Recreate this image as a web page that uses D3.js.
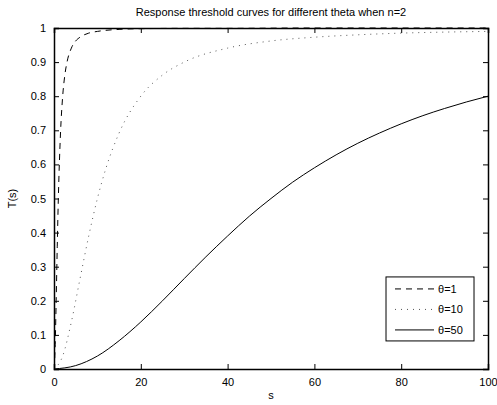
<!DOCTYPE html>
<html>
<head>
<meta charset="utf-8">
<script src="https://cdn.jsdelivr.net/npm/d3@7"></script>
<style>
body { margin: 0; background: #fff; }
text { font-family: "Liberation Sans", Arial, sans-serif; fill: #000; }
</style>
</head>
<body>
<div id="chart"></div>
<script>
// values
const s1 = [0, 0.25, 0.5, 0.75, 1, 1.5, 2, 2.5, 3, 4, 5, 6, 8, 10, 15, 20, 30, 40, 60, 80, 100]
const t1 = [0, 0.059, 0.2, 0.36, 0.5, 0.692, 0.8, 0.862, 0.9, 0.941, 0.962, 0.973, 0.985, 0.99, 0.996, 0.998, 0.999, 0.999, 1, 1, 1]

const s10 = [0, 2, 4, 6, 8, 10, 12, 15, 20, 25, 30, 40, 50, 60, 70, 80, 90, 100]
const t10 = [0, 0.038, 0.138, 0.265, 0.39, 0.5, 0.59, 0.692, 0.8, 0.862, 0.9, 0.941, 0.962, 0.973, 0.98, 0.985, 0.988, 0.99]

const s50 = [0, 5, 10, 15, 20, 25, 30, 35, 40, 45, 50, 55, 60, 65, 70, 75, 80, 85, 90, 95, 100]
const t50 = [0, 0.01, 0.038, 0.083, 0.138, 0.2, 0.265, 0.329, 0.39, 0.448, 0.5, 0.548, 0.59, 0.628, 0.662, 0.692, 0.719, 0.743, 0.764, 0.783, 0.8]

const seriesNames = ["\u03b8=1", "\u03b8=10", "\u03b8=50"]
const xTicks = [0, 20, 40, 60, 80, 100]
const yTicks = [0, 0.1, 0.2, 0.3, 0.4, 0.5, 0.6, 0.7, 0.8, 0.9, 1]

const W = 497, H = 405
const margin = {top: 28, right: 9, bottom: 36, left: 54}
const width = W - margin.left - margin.right
const height = H - margin.top - margin.bottom

const svg = d3.select("#chart").append("svg")
		.attr("width", W)
		.attr("height", H)

const g = svg.append("g")
		.attr("transform", `translate(${margin.left},${margin.top})`)

const x = d3.scaleLinear().domain([0, 100]).range([0, width])
const y = d3.scaleLinear().domain([0, 1]).range([height, 0])

// clip so nothing pokes out of the box
svg.append("defs").append("clipPath").attr("id", "clip")
		.append("rect").attr("width", width).attr("height", height + 1).attr("y", -1)

const styles = [
	{dash: "6,5", color: "#000", w: 1},
	{dash: "1,5", color: "#555", w: 1},
	{dash: null, color: "#000", w: 1}
]

const series = [
	s1.map((s, i) => ({s: s, t: t1[i]})),
	s10.map((s, i) => ({s: s, t: t10[i]})),
	s50.map((s, i) => ({s: s, t: t50[i]}))
]

const line = d3.line()
		.curve(d3.curveMonotoneX)
		.x(d => x(d.s))
		.y(d => y(d.t))

g.append("g").attr("clip-path", "url(#clip)")
	.selectAll("path")
	.data(series)
	.join("path")
		.attr("d", d => line(d))
		.attr("fill", "none")
		.attr("stroke", (d, i) => styles[i].color)
		.attr("stroke-width", (d, i) => styles[i].w)
		.attr("stroke-dasharray", (d, i) => styles[i].dash)

// axes, matlab style: ticks inward on all four sides
const tl = 5
const xAxis = d3.axisBottom(x).tickValues(xTicks).tickSize(-tl).tickPadding(tl + 4).tickFormat(d3.format("d"))
const yAxis = d3.axisLeft(y).tickValues(yTicks).tickSize(-tl).tickPadding(tl + 3).tickFormat(d => d === 0 || d === 1 ? d : d3.format(".1f")(d))

const xg = g.append("g").attr("transform", `translate(0,${height})`).call(xAxis)
const yg = g.append("g").call(yAxis)
g.append("g").call(d3.axisTop(x).tickValues(xTicks).tickSize(-tl).tickFormat(""))
g.append("g").attr("transform", `translate(${width},0)`).call(d3.axisRight(y).tickValues(yTicks).tickSize(-tl).tickFormat(""))

g.selectAll(".domain").attr("stroke", "#000").attr("stroke-width", 1.5)
g.selectAll(".tick line").attr("stroke", "#000")
g.selectAll(".tick text").attr("font-size", 11).attr("font-family", "Liberation Sans, Arial, sans-serif")

// title and labels
svg.append("text")
		.attr("x", margin.left + width / 2)
		.attr("y", 16)
		.attr("text-anchor", "middle")
		.attr("font-size", 11)
		.text("Response threshold curves for different theta when n=2")

svg.append("text")
		.attr("x", margin.left + width / 2)
		.attr("y", H - 6)
		.attr("text-anchor", "middle")
		.attr("font-size", 11)
		.text("s")

svg.append("text")
		.attr("transform", `translate(16,${margin.top + height / 2}) rotate(-90)`)
		.attr("text-anchor", "middle")
		.attr("font-size", 11)
		.text("T(s)")

// legend
const lg = g.append("g").attr("transform", `translate(${x(76.5)},${y(0.27)})`)
lg.append("rect")
		.attr("width", 88).attr("height", 64)
		.attr("fill", "#fff").attr("stroke", "#000").attr("stroke-width", 1)

seriesNames.forEach((name, i) => {
	const yy = 12 + i * 20.5
	lg.append("line")
			.attr("x1", 9).attr("x2", 48).attr("y1", yy).attr("y2", yy)
			.attr("stroke", styles[i].color)
			.attr("stroke-width", styles[i].w)
			.attr("stroke-dasharray", styles[i].dash)
	lg.append("text")
			.attr("x", 52).attr("y", yy + 4)
			.attr("font-size", 11)
			.text(name)
})
</script>
</body>
</html>
